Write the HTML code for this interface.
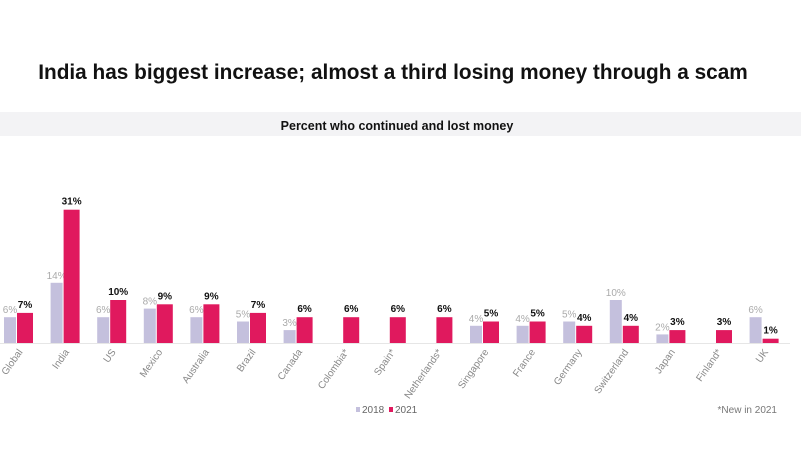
<!DOCTYPE html>
<html><head><meta charset="utf-8"><style>
body{margin:0;background:#fff;font-family:"Liberation Sans",sans-serif}
#wrap{position:relative;width:801px;height:450px;overflow:hidden;background:#fff}
</style></head><body>
<div id="wrap">
<svg id="svg" width="801" height="450">
<text x="393" y="79" text-anchor="middle" font-size="20.8" font-weight="bold" fill="#111">India has biggest increase; almost a third losing money through a scam</text>
<rect x="0" y="112" width="801" height="24" fill="#f3f3f5"/>
<text x="397" y="130" text-anchor="middle" font-size="12.5" font-weight="bold" fill="#111">Percent who continued and lost money</text>
<line x1="0" y1="343.5" x2="790" y2="343.5" stroke="#e6e6e6"/>
<g id="bars"></g>
<rect x="356" y="407" width="4" height="5" fill="#c4c0dd"/>
<text x="362" y="413" font-size="10" fill="#666">2018</text>
<rect x="389" y="407" width="4" height="5" fill="#e0195e"/>
<text x="395" y="413" font-size="10" fill="#666">2021</text>
<text x="777" y="413" text-anchor="end" font-size="10" fill="#777">*New in 2021</text>
</svg>
</div>
<script>
const categories=["Global","India","US","Mexico","Australia","Brazil","Canada","Colombia*","Spain*","Netherlands*","Singapore","France","Germany","Switzerland","Japan","Finland*","UK"];
const values2018=[6,14,6,8,6,5,3,null,null,null,4,4,5,10,2,null,6];
const values2021=[7,31,10,9,9,7,6,6,6,6,5,5,4,4,3,3,1];
const NS="http://www.w3.org/2000/svg";
const g=document.getElementById('bars');
const base=343, k=4.3;
function xc(i){return 17+i*46.6;}
function y(v){return base-v*k;}
function mk(t,a){const e=document.createElementNS(NS,t);for(const n in a)e.setAttribute(n,a[n]);g.appendChild(e);return e;}
categories.forEach((c,i)=>{
  const x=xc(i);
  const v1=values2018[i];
  if(v1!=null){
    const r=mk('rect',{x:x-13,y:y(v1),width:12,height:v1*k,fill:'#c4c0dd'});
    
    
    const t=mk('text',{x:x-7,y:y(v1)-4,'text-anchor':'middle','font-size':10,fill:'#aaa'});
    t.textContent=v1+'%';
    
    
  }
  const v2=values2021[i];
  const r2=mk('rect',{x:x,y:y(v2),width:16,height:v2*k,fill:'#e0195e'});
  
  
  const t2=mk('text',{x:x+8,y:y(v2)-5,'text-anchor':'middle','font-size':10,'font-weight':'bold',fill:'#111'});
  t2.textContent=v2+'%';
  
  
  const lx=x+6, ly=352;
  const tl=mk('text',{x:lx,y:ly,'text-anchor':'end','font-size':10,fill:'#888',transform:'rotate(-55 '+lx+' '+ly+')'});
  tl.textContent=c;
  
  
});
</script>
</body></html>
